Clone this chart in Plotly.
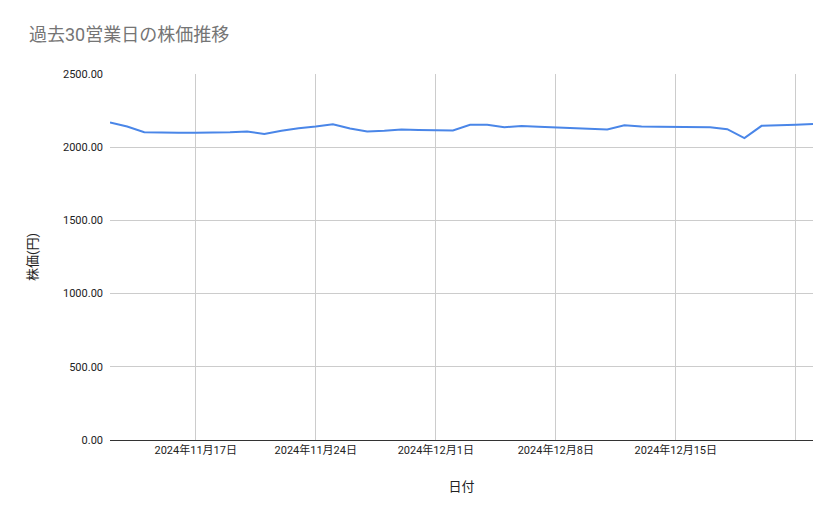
import plotly.graph_objects as go
import pandas as pd

dates = pd.date_range("2024-11-12", "2024-12-23", freq="D")
prices = [2169, 2141, 2102, 2098, 2098, 2098, 2098, 2102, 2107, 2091, 2112, 2130, 2141,
          2157, 2128, 2107, 2112, 2121, 2118, 2116, 2114, 2153, 2153, 2137, 2144, 2139,
          2134, 2130, 2125, 2121, 2150, 2141, 2139, 2137, 2134, 2137, 2123, 2062, 2146,
          2148, 2153, 2159]
tick_dates = pd.to_datetime(["2024-11-17", "2024-11-24", "2024-12-01", "2024-12-08", "2024-12-15", "2024-12-22"])
tick_labels = ["2024年11月17日", "2024年11月24日", "2024年12月1日", "2024年12月8日", "2024年12月15日", ""]

fig = go.Figure(go.Scatter(x=dates, y=prices, mode="lines",
                           line=dict(color="#4a86e8", width=2), hoverinfo="x+y"))

font = "Roboto, 'Noto Sans CJK JP', sans-serif"
fig.update_layout(
    width=839, height=519,
    paper_bgcolor="white", plot_bgcolor="white",
    margin=dict(l=102, r=34, t=66, b=87),
    font=dict(family=font, size=11, color="#222"),
    title=dict(text="過去30営業日の株価推移", x=0.025, y=0.96, xanchor="left",
               font=dict(size=18, color="#757575")),
    showlegend=False,
)
fig.update_xaxes(range=[dates[0], dates[-1]], tickvals=tick_dates, ticktext=tick_labels,
                 showgrid=True, gridcolor="#cccccc", showline=True, linecolor="#333",
                 ticks="", title=dict(text="日付", standoff=25))
fig.update_yaxes(range=[0, 2500], dtick=500, tickformat=".2f", showgrid=True,
                 gridcolor="#cccccc", zeroline=False, ticks="", ticklabelstandoff=6,
                 title=dict(text="株価(円)", standoff=22))

fig.write_html("out.html")
